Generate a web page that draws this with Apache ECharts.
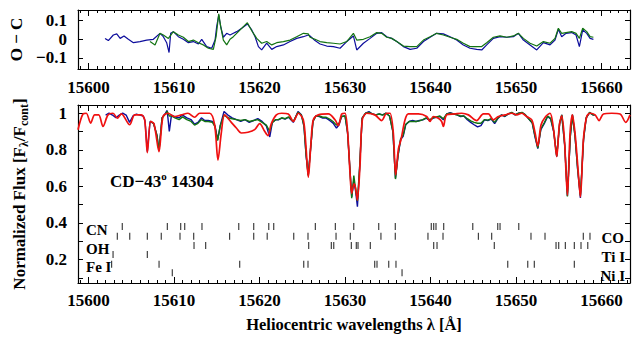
<!DOCTYPE html>
<html>
<head>
<meta charset="utf-8">
<script src="https://cdn.jsdelivr.net/npm/echarts@6/dist/echarts.min.js"></script>
<style>html,body{margin:0;padding:0;background:#fff}#main{width:633px;height:338px}</style>
</head>
<body>
<div id="main"></div>
<script>
// O - C residuals, blue
var ocBlueLam = [15601.93,15602.32,15602.9,15603.3,15603.7,15604.15,15604.66,15605.25,15606.02,15606.8,15607.58,15608.36,15608.75,15609.14,15609.42,15609.61,15609.92,15610.51,15611.09,15611.68,15612.26,15612.85,15613.24,15613.82,15614.41,15614.8,15614.99,15615.23,15615.46,15615.77,15616.16,15616.55,15616.94,15617.33,15617.92,15618.58,15619.09,15619.48,15619.87,15620.25,15620.84,15621.43,15622.01,15622.79,15623.57,15624.35,15625.13,15625.71,15625.91,15626.49,15627.08,15627.86,15628.64,15629.42,15630.2,15630.98,15631.37,15632.15,15632.93,15633.71,15634.29,15634.88,15635.46,15636.05,15636.83,15637.61,15638.39,15639.17,15639.95,15640.72,15641.5,15642.28,15643.06,15643.84,15644.62,15645.4,15645.99,15646.57,15647.35,15648.13,15648.91,15649.69,15650.28,15650.86,15651.64,15652.42,15653.2,15653.98,15654.56,15654.95,15655.34,15655.85,15656.51,15657.02,15657.41,15657.8,15658.27,15658.66,15659.05];
var ocBlueVal = [0.005,-0.007,0.023,0.029,0.005,0.018,0.0,-0.018,-0.012,-0.004,0.0,0.032,0.014,-0.018,-0.071,0.032,0.041,0.014,0.0,-0.018,-0.012,-0.025,0.0,-0.039,-0.048,-0.004,0.068,0.13,0.068,0.011,0.032,0.023,0.032,0.041,0.059,0.082,0.05,0.014,-0.039,-0.057,-0.021,-0.054,-0.039,-0.03,-0.012,0.005,0.014,0.023,0.018,-0.007,-0.025,-0.036,-0.039,-0.048,-0.012,0.018,-0.057,-0.021,0.005,0.032,0.036,0.014,0.005,-0.012,-0.039,-0.054,-0.048,-0.012,0.011,0.032,0.029,0.014,-0.004,-0.03,-0.048,-0.054,-0.057,-0.03,0.005,0.014,0.011,0.014,0.032,-0.004,-0.03,-0.057,-0.018,-0.03,-0.004,0.054,0.014,0.032,0.036,0.023,-0.039,0.05,0.032,0.005,0.0];

// O - C residuals, green
var ocGreenLam = [15607.19,15607.78,15608.36,15608.75,15609.34,15609.92,15610.51,15611.09,15611.68,15612.26,15612.85,15613.43,15614.02,15614.6,15614.92,15615.23,15615.46,15615.77,15616.16,15616.55,15616.94,15617.53,15618.58,15619.09,15619.67,15620.25,15620.84,15621.43,15622.01,15622.79,15623.57,15624.35,15625.13,15625.71,15625.91,15626.49,15627.08,15627.86,15628.64,15629.42,15630.2,15630.98,15631.37,15632.15,15632.93,15633.71,15634.29,15634.88,15635.46,15636.05,15636.83,15637.61,15638.39,15639.17,15639.95,15640.72,15641.5,15642.28,15643.06,15643.84,15644.62,15645.4,15645.99,15646.57,15647.35,15648.13,15648.91,15649.69,15650.28,15650.86,15651.64,15652.42,15653.2,15653.98,15654.56,15654.95,15655.34,15655.85,15656.51,15657.02,15657.41,15657.8,15658.27,15658.66,15659.05];
var ocGreenVal = [-0.012,-0.03,0.032,0.023,0.005,0.041,0.023,0.011,-0.012,-0.004,-0.018,-0.03,-0.048,-0.054,0.014,0.136,0.068,-0.004,-0.03,0.0,0.014,0.041,0.089,0.046,0.005,-0.021,-0.012,-0.03,-0.018,-0.012,-0.004,0.014,0.032,0.029,0.011,0.0,-0.012,-0.018,-0.021,-0.025,-0.012,0.032,-0.004,0.0,0.014,0.036,0.032,0.011,0.005,-0.012,-0.036,-0.039,-0.039,-0.004,0.014,0.032,0.023,0.011,0.0,-0.021,-0.039,-0.039,-0.039,-0.018,0.011,0.018,0.011,0.018,0.032,0.005,-0.021,-0.036,-0.012,-0.021,0.005,0.059,0.032,0.036,0.041,0.032,0.005,0.059,0.041,0.014,0.011];

// observed spectrum, blue
var obsBlueLam = [15602.0,15602.4,15602.8,15603.2,15603.6,15604.0,15604.4,15604.8,15605.2,15605.6,15606.0,15606.4,15606.6,15606.88,15607.2,15607.6,15608.0,15608.24,15608.6,15609.0,15609.2,15609.45,15609.7,15610.1,15610.6,15611.0,15611.5,15612.0,15612.4,15612.8,15613.2,15613.6,15614.0,15614.5,15614.8,15615.1,15615.4,15615.85,15616.3,15616.8,15617.3,15617.8,15618.3,15618.8,15619.3,15619.8,15620.3,15620.8,15621.2,15621.5,15621.9,15622.2,15622.6,15623.0,15623.4,15623.95,15624.5,15624.9,15625.2,15625.45,15625.7,15626.0,15626.25,15626.6,15627.0,15627.4,15627.8,15628.2,15628.6,15629.0,15629.3,15629.6,15630.0,15630.3,15630.55,15630.78,15631.03,15631.25,15631.45,15631.7,15632.0,15632.4,15632.8,15633.2,15633.6,15634.0,15634.4,15634.8,15635.2,15635.6,15635.9,15636.2,15636.5,15636.8,15637.1,15637.5,15637.9,15638.3,15638.7,15639.1,15639.5,15639.9,15640.3,15640.7,15641.1,15641.5,15641.9,15642.3,15642.7,15643.1,15643.5,15643.9,15644.3,15644.7,15645.1,15645.5,15645.9,15646.3,15646.7,15647.1,15647.5,15647.9,15648.3,15648.7,15649.1,15649.5,15649.9,15650.3,15650.7,15651.1,15651.5,15651.9,15652.2,15652.55,15652.9,15653.3,15653.7,15654.05,15654.4,15654.76,15655.1,15655.35,15655.7,15656.01,15656.35,15656.6,15656.9,15657.2,15657.53,15657.9,15658.2,15658.6,15659.0,15659.2];
var obsBlueVal = [0.99,1.0,0.99,0.975,0.99,1.0,0.99,0.95,0.985,0.995,0.99,0.985,0.96,0.79,0.955,0.945,0.88,0.795,0.975,1.0,1.015,0.9,0.99,0.98,0.975,0.99,0.975,0.965,0.94,0.95,0.975,0.96,0.96,0.955,0.93,0.855,0.93,1.01,0.99,0.975,0.965,0.955,0.965,0.95,0.96,0.97,0.955,0.93,0.87,0.95,0.965,0.964,0.973,0.968,0.978,0.95,1.009,0.991,0.928,0.767,0.663,0.82,0.955,0.986,0.982,0.973,0.973,0.96,0.946,0.919,0.937,0.982,0.985,0.892,0.713,0.543,0.633,0.57,0.489,0.695,0.973,1.0,1.009,0.996,0.991,0.996,0.991,1.0,0.985,0.9,0.645,0.767,0.856,0.874,0.937,0.955,0.96,0.955,0.96,0.964,0.973,0.96,0.973,0.978,0.982,0.964,0.996,1.003,0.996,0.991,0.982,0.985,0.964,0.95,0.937,0.925,0.932,0.964,0.96,0.968,0.943,0.973,0.991,0.982,0.996,1.003,0.991,1.0,1.003,0.991,0.968,0.946,0.874,0.806,0.91,0.943,0.982,0.968,0.9,0.763,0.943,0.991,0.821,0.548,0.874,0.991,0.874,0.695,0.537,0.856,0.973,1.003,0.991,0.988];

// observed spectrum, green
var obsGreenLam = [15607.2,15607.6,15608.0,15608.24,15608.6,15609.0,15609.2,15609.45,15609.7,15610.1,15610.6,15611.0,15611.5,15612.0,15612.4,15612.8,15613.2,15613.6,15614.0,15614.5,15614.8,15615.1,15615.4,15615.85,15616.3,15616.8,15617.3,15617.8,15618.3,15618.8,15619.3,15619.8,15620.3,15620.8,15621.2,15621.5,15621.9,15622.2,15622.6,15623.0,15623.4,15623.95,15624.5,15624.9,15625.2,15625.45,15625.7,15626.0,15626.25,15626.6,15627.0,15627.4,15627.8,15628.2,15628.6,15629.0,15629.3,15629.6,15630.0,15630.3,15630.55,15630.78,15631.03,15631.25,15631.45,15631.7,15632.0,15632.4,15632.8,15633.2,15633.6,15634.0,15634.4,15634.8,15635.2,15635.6,15635.9,15636.2,15636.5,15636.8,15637.1,15637.5,15637.9,15638.3,15638.7,15639.1,15639.5,15639.9,15640.3,15640.7,15641.1,15641.5,15641.9,15642.3,15642.7,15643.1,15643.5,15643.9,15644.3,15644.7,15645.1,15645.5,15645.9,15646.3,15646.7,15647.1,15647.5,15647.9,15648.3,15648.7,15649.1,15649.5,15649.9,15650.3,15650.7,15651.1,15651.5,15651.9,15652.2,15652.55,15652.9,15653.3,15653.7,15654.05,15654.4,15654.76,15655.1,15655.35,15655.7,15656.01,15656.35,15656.6,15656.9,15657.2,15657.53,15657.9,15658.2,15658.6,15659.0,15659.2];
var obsGreenVal = [0.955,0.945,0.88,0.795,0.975,0.995,1.01,0.985,0.985,0.975,0.965,0.98,0.965,0.955,0.935,0.945,0.965,0.955,0.955,0.95,0.925,0.85,0.93,0.99,0.975,0.97,0.965,0.96,0.965,0.955,0.96,0.965,0.95,0.935,0.9,0.95,0.965,0.965,0.975,0.97,0.98,0.955,1.005,0.99,0.93,0.77,0.658,0.82,0.955,0.985,0.985,0.978,0.978,0.968,0.955,0.935,0.945,0.982,0.985,0.895,0.71,0.535,0.659,0.58,0.52,0.7,0.973,1.0,1.005,0.996,0.991,0.996,0.99,1.0,0.985,0.9,0.64,0.77,0.86,0.88,0.94,0.955,0.955,0.955,0.958,0.965,0.975,0.965,0.975,0.98,0.985,0.97,0.996,1.0,0.996,0.991,0.985,0.985,0.97,0.958,0.95,0.945,0.945,0.965,0.962,0.97,0.95,0.975,0.99,0.985,0.996,1.005,0.991,1.0,1.005,0.991,0.968,0.948,0.88,0.81,0.915,0.948,0.985,0.972,0.905,0.765,0.945,0.991,0.825,0.545,0.875,0.991,0.875,0.7,0.55,0.86,0.975,1.005,0.991,0.99];

// synthetic spectrum, red
var synLam = [15598.77,15599.35,15599.74,15600.25,15600.72,15601.19,15601.69,15602.28,15602.86,15603.37,15603.84,15604.81,15605.4,15606.18,15606.57,15606.88,15607.27,15607.66,15608.24,15608.71,15609.3,15610.08,15610.86,15611.63,15612.41,15613.0,15614.17,15614.75,15615.14,15615.53,15615.92,15616.7,15617.29,15617.87,15618.65,15619.43,15620.02,15620.6,15620.99,15621.38,15621.97,15622.59,15623.37,15623.95,15624.54,15625.12,15625.4,15625.71,15626.02,15626.29,15626.88,15628.05,15628.83,15629.22,15629.61,15630.0,15630.31,15630.58,15630.78,15631.05,15631.25,15631.44,15631.75,15632.02,15632.53,15633.5,15634.29,15634.87,15635.26,15635.65,15635.92,15636.24,15636.55,15637.02,15637.41,15638.58,15639.55,15639.94,15640.33,15640.91,15641.3,15641.5,15641.89,15642.86,15643.65,15644.43,15645.4,15646.18,15646.77,15647.35,15647.94,15648.72,15649.5,15650.08,15650.67,15651.25,15651.84,15652.23,15652.54,15652.93,15653.47,15653.98,15654.37,15654.76,15655.07,15655.35,15655.66,15656.01,15656.32,15656.59,15656.9,15657.22,15657.53,15657.88,15658.27,15658.66,15659.25,15659.71,15660.22,15661.2,15662.17,15662.83,15663.33];
var synVal = [0.91,0.996,1.0,0.946,0.991,0.991,0.928,0.991,1.0,0.973,0.996,0.937,0.991,0.991,0.964,0.785,0.955,0.943,0.79,0.982,1.0,0.982,0.991,1.0,0.978,1.0,1.0,0.937,0.744,0.892,0.991,0.95,0.919,0.892,0.896,0.91,0.943,0.901,0.878,0.943,0.991,1.0,0.996,0.955,1.0,0.964,0.84,0.65,0.839,0.964,0.991,0.996,0.964,0.932,0.996,1.0,0.892,0.677,0.561,0.614,0.588,0.525,0.713,0.964,1.0,0.991,0.96,1.0,1.0,0.892,0.663,0.803,0.856,0.964,0.996,0.996,0.982,0.955,0.982,0.973,0.955,0.928,0.991,0.996,1.0,0.991,0.96,0.996,0.996,0.964,0.982,0.991,1.0,0.991,1.0,0.982,0.964,0.892,0.821,0.937,0.982,1.0,0.919,0.763,0.937,0.985,0.856,0.552,0.892,0.991,0.892,0.713,0.543,0.856,0.982,1.0,0.991,0.96,0.996,1.0,0.996,0.95,0.991];

// line identifications (wavelengths)
var linesCN = [15603.95,15609.22,15610.78,15611.25,15613.27,15617.57,15619.32,15621.08,15621.66,15626.53,15628.87,15631.02,15633.94,15635.88,15640.09,15640.37,15640.64,15641.54,15644.94,15647.86,15648.13,15650.32];
var linesCO = [15603.37,15604.82,15606.88,15608.51,15610.7,15612.3,15616.5,15619.32,15620.9,15624.0,15625.67,15628.95,15630.62,15634.2,15635.88,15639.7,15641.46,15645.6,15647.15,15651.75,15653.39,15657.87,15658.65];
var linesOH = [15612.34,15613.7,15625.75,15628.4,15628.68,15630.74,15631.32,15631.52,15632.96,15640.37,15640.76,15647.46,15654.68,15654.99,15655.77,15656.82,15657.6,15658.39];
var linesTi = [15602.87,15606.88];
var linesFe = [15602.7,15608.25,15617.68,15625.17,15625.67,15633.47,15633.74,15635.11,15635.96,15649.03,15651.37,15652.14,15656.82];
var linesNi = [15609.8,15636.67];

// tick labels
var xTickVals = [15600,15610,15620,15630,15640,15650,15660];
var ocTickVals = [-0.1,0,0.1];
var fluxTickVals = [0.2,0.4,0.6,0.8,1];

var FONT = 'Liberation Serif';
var XMIN = 15598.77, XMAX = 15663.33;
var xMinor = [];
for (var t = 15599; t <= 15663; t++) { if (t % 10 !== 0) xMinor.push(t); }
var fluxTicks = [0.1,0.2,0.3,0.4,0.5,0.6,0.7,0.8,0.9,1.0];

function pairs(lam, val) {
    return lam.map(function (l, i) { return [l, val[i]]; });
}

function xAxis(grid, pos, labels, ticks, len, line, margin) {
    return {
        type: 'value', gridIndex: grid, position: pos, min: XMIN, max: XMAX,
        axisLine: { show: line, onZero: false, lineStyle: { color: '#000', width: 1.2 } },
        axisTick: { show: true, inside: true, length: len, customValues: ticks, lineStyle: { color: '#000', width: 1 } },
        axisLabel: {
            show: labels, customValues: xTickVals, margin: margin || 10,
            fontFamily: FONT, fontWeight: 'bold', fontSize: 17, color: '#000',
            formatter: function (v) { return String(v); }
        },
        splitLine: { show: false }
    };
}

var chart = echarts.init(document.getElementById('main'), null, { renderer: 'svg' });

var xAxes = [
    xAxis(0, 'bottom', true, xTickVals, 6, true, 10),
    xAxis(0, 'top', false, xTickVals, 6, true),
    xAxis(0, 'bottom', false, xMinor, 3, false),
    xAxis(0, 'top', false, xMinor, 3, false),
    xAxis(1, 'bottom', true, xTickVals, 6, true, 9),
    xAxis(1, 'top', false, xTickVals, 6, true),
    xAxis(1, 'bottom', false, xMinor, 3, false),
    xAxis(1, 'top', false, xMinor, 3, false)
];
xAxes[4].name = 'Heliocentric wavelengths λ [Å]';
xAxes[4].nameLocation = 'middle';
xAxes[4].nameGap = 33;
xAxes[4].nameTextStyle = { fontFamily: FONT, fontWeight: 'bold', fontSize: 16.5, color: '#000' };

var yLine = { show: true, onZero: false, lineStyle: { color: '#000', width: 1.2 } };
var yAxes = [
    {
        type: 'value', gridIndex: 0, position: 'left', min: -0.159, max: 0.157,
        axisLine: yLine,
        axisTick: { inside: true, length: 5, customValues: ocTickVals, lineStyle: { color: '#000' } },
        axisLabel: {
            customValues: ocTickVals, margin: 11, fontFamily: FONT, fontWeight: 'bold', fontSize: 17, color: '#000',
            formatter: function (v) { return v === 0 ? '0' : (v < 0 ? '\u2212' + Math.abs(v).toFixed(1) : v.toFixed(1)); }
        },
        splitLine: { show: false },
        name: 'O \u2212 C', nameLocation: 'middle', nameRotate: 90, nameGap: 48,
        nameTextStyle: { fontFamily: FONT, fontWeight: 'bold', fontSize: 17, color: '#000' }
    },
    {
        type: 'value', gridIndex: 0, position: 'right', min: -0.159, max: 0.157,
        axisLine: yLine,
        axisTick: { inside: true, length: 5, customValues: ocTickVals, lineStyle: { color: '#000' } },
        axisLabel: { show: false }, splitLine: { show: false }
    },
    {
        type: 'value', gridIndex: 1, position: 'left', min: 0.0715, max: 1.045,
        axisLine: yLine,
        axisTick: { inside: true, length: 5, customValues: fluxTicks, lineStyle: { color: '#000' } },
        axisLabel: {
            customValues: fluxTickVals, margin: 11, fontFamily: FONT, fontWeight: 'bold', fontSize: 17, color: '#000',
            formatter: function (v) { return v === 1 ? '1' : v.toFixed(1); }
        },
        splitLine: { show: false },
        name: 'Normalized Flux [F{s|\u03bb}/F{s|cont}]', nameLocation: 'middle', nameRotate: 90, nameGap: 48,
        nameTextStyle: {
            fontFamily: FONT, fontWeight: 'bold', fontSize: 17, color: '#000',
            rich: { s: { fontFamily: FONT, fontWeight: 'bold', fontSize: 12, color: '#000', padding: [9, 0, 0, 0] } }
        }
    },
    {
        type: 'value', gridIndex: 1, position: 'right', min: 0.0715, max: 1.045,
        axisLine: yLine,
        axisTick: { inside: true, length: 5, customValues: fluxTicks, lineStyle: { color: '#000' } },
        axisLabel: { show: false }, splitLine: { show: false }
    }
];

function lineSeries(x, y, data, color, width, z, smooth) {
    return {
        type: 'line', xAxisIndex: x, yAxisIndex: y, data: data, showSymbol: false,
        smooth: smooth || false, lineStyle: { color: color, width: width }, z: z, silent: true
    };
}

function idSeries(lines, level) {
    return {
        type: 'scatter', xAxisIndex: 4, yAxisIndex: 2, symbol: 'rect', symbolSize: [1.2, 7],
        itemStyle: { color: '#111' }, silent: true, z: 5,
        data: lines.map(function (l) { return [l, level]; })
    };
}

var BLUE = '#0d0d9c', GREEN = '#127312', RED = '#f01010';

var labelStyle = { font: 'bold 15px "Liberation Serif"', fill: '#000', verticalAlign: 'middle' };
function lbl(text, x, y, align) {
    return { type: 'text', x: x, y: y, silent: true,
        style: Object.assign({ text: text, align: align }, labelStyle) };
}

chart.setOption({
    animation: false,
    backgroundColor: '#fff',
    grid: [
        { left: 78, top: 10, width: 552, height: 59 },
        { left: 78, top: 105, width: 552, height: 181 }
    ],
    xAxis: xAxes,
    yAxis: yAxes,
    series: [
        lineSeries(0, 0, pairs(ocBlueLam, ocBlueVal), BLUE, 1.2, 2),
        lineSeries(0, 0, pairs(ocGreenLam, ocGreenVal), GREEN, 1.2, 3),
        lineSeries(4, 2, pairs(obsBlueLam, obsBlueVal), BLUE, 1.4, 2),
        lineSeries(4, 2, pairs(obsGreenLam, obsGreenVal), GREEN, 1.4, 3),
        lineSeries(4, 2, pairs(synLam, synVal), RED, 1.7, 4, 0.3),
        idSeries(linesCN, 0.381),
        idSeries(linesCO, 0.327),
        idSeries(linesOH, 0.276),
        idSeries(linesTi, 0.227),
        idSeries(linesFe, 0.174),
        idSeries(linesNi, 0.128)
    ],
    graphic: [
        {
            type: 'text', x: 110, y: 181, silent: true,
            style: {
                text: 'CD\u221243{sup|o} 14304', font: 'bold 17px "Liberation Serif"', fill: '#000', verticalAlign: 'middle',
                rich: { sup: { font: 'bold 11px "Liberation Serif"', fill: '#000', padding: [0, 0, 10, 0] } }
            }
        },
        lbl('CN', 86, 230, 'left'),
        lbl('OH', 86, 249, 'left'),
        lbl('Fe I', 86, 267, 'left'),
        lbl('CO', 624, 238, 'right'),
        lbl('Ti I', 625, 257, 'right'),
        lbl('Ni I', 625, 276, 'right')
    ]
});
</script>
</body>
</html>
